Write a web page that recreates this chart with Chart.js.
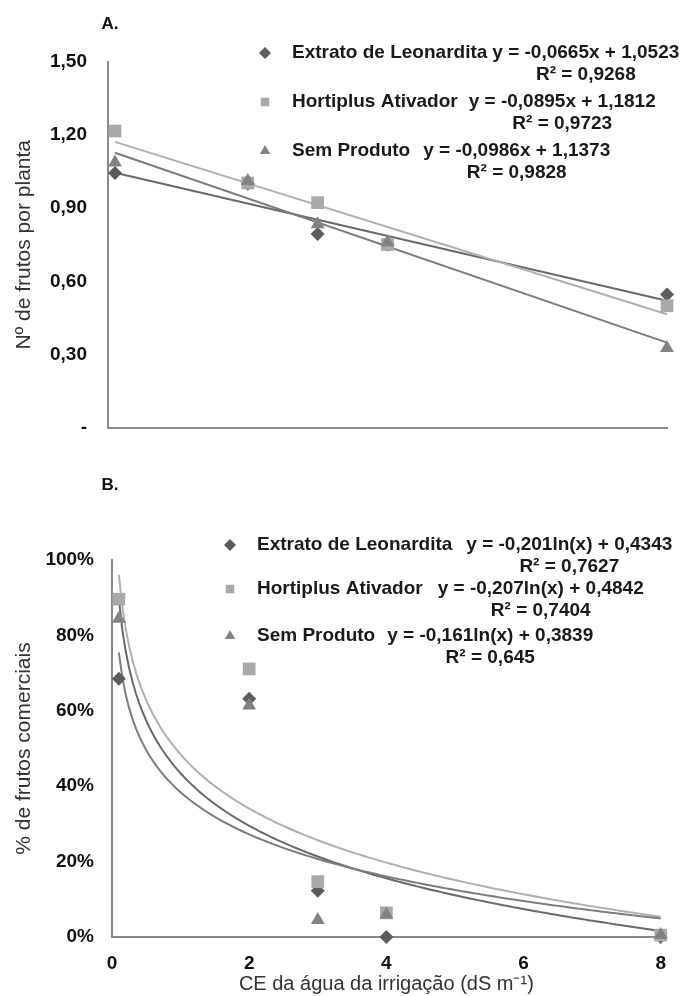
<!DOCTYPE html>
<html>
<head>
<meta charset="utf-8">
<script src="https://cdn.jsdelivr.net/npm/chart.js@4"></script>
<style>
  body { margin: 0; background: #fff; }
  #wrap { position: relative; width: 681px; height: 996px; }
  canvas { position: absolute; left: 0; }
  #chartA { top: 0; }
  #chartB { top: 460px; }
</style>
</head>
<body>
<div id="wrap">
  <canvas id="chartA" width="681" height="460"></canvas>
  <canvas id="chartB" width="681" height="536"></canvas>
</div>
<script>
// CE da agua de irrigacao (dS m-1)
const ce = [0.1, 2, 3, 4, 8];

const seriesNames = ['Extrato de Leonardita', 'Hortiplus Ativador', 'Sem Produto'];

// A. frutos por planta
const frutosExtrato = [1.045, 1.00, 0.794, 0.75, 0.546];
const frutosHortiplus = [1.217, 1.004, 0.923, 0.751, 0.50];
const frutosSem = [1.088, 1.012, 0.834, 0.76, 0.327];
const slopeA = [-0.0665, -0.0895, -0.0986];
const interceptA = [1.0523, 1.1812, 1.1373];
const eqTextA = ['y = -0,0665x + 1,0523', 'y = -0,0895x + 1,1812', 'y = -0,0986x + 1,1373'];
const r2TextA = ['R² = 0,9268', 'R² = 0,9723', 'R² = 0,9828'];
const yTicksA = ['-', '0,30', '0,60', '0,90', '1,20', '1,50'];

// B. % frutos comerciais
const comExtrato = [68.5, 63.2, 12.3, 0, 0];
const comHortiplus = [89.6, 71.1, 14.7, 6.4, 0.5];
const comSem = [84.4, 61.4, 4.5, 6.0, 0.5];
const logCoefB = [-0.201, -0.207, -0.161];
const logInterceptB = [0.4343, 0.4842, 0.3839];
const eqTextB = ['y = -0,201ln(x) + 0,4343', 'y = -0,207ln(x) + 0,4842', 'y = -0,161ln(x) + 0,3839'];
const r2TextB = ['R² = 0,7627', 'R² = 0,7404', 'R² = 0,645'];
const xTicksB = ['0', '2', '4', '6', '8'];

const FONT = "'Liberation Sans', Arial, sans-serif";
const markerStyle = ['rectRot', 'rect', 'triangle'];
const markerColor = ['#5c5c5c', '#a9a9a9', '#828282'];
const markerRadius = [7, 9, 8];
const lineColor = ['#6a6a6a', '#b0b0b0', '#7c7c7c'];
const axisColor = '#8a8a8a';

function pts(ys) {
  return ce.map((x, i) => ({ x: x, y: ys[i] }));
}

function markerSets(values) {
  return values.map((ys, i) => ({
    type: 'scatter',
    data: pts(ys),
    pointStyle: markerStyle[i],
    pointRadius: markerRadius[i],
    pointBackgroundColor: markerColor[i],
    pointBorderWidth: 0,
    order: 3 - i,
    clip: false
  }));
}

function trendSet(data, i) {
  return {
    type: 'line',
    data: data,
    borderColor: lineColor[i],
    borderWidth: 2,
    pointRadius: 0,
    tension: 0,
    order: 10 - i,
    clip: false
  };
}

// legend drawn like the excel text boxes: marker, name, equation and R2 below
function legendPlugin(label, labelPos, eqs, r2s, pos) {
  return {
    id: 'legendEq',
    afterDraw(chart) {
      const ctx = chart.ctx;
      ctx.save();
      ctx.fillStyle = '#111';
      ctx.font = 'bold 17px ' + FONT;
      ctx.textBaseline = 'middle';
      ctx.textAlign = 'center';
      ctx.fillText(label, labelPos[0], labelPos[1]);
      ctx.font = 'bold 19px ' + FONT;
      seriesNames.forEach((name, i) => {
        const y = pos.rows[i];
        ctx.fillStyle = markerColor[i];
        Chart.helpers.drawPoint(ctx, { pointStyle: markerStyle[i], radius: 6, rotation: 0, borderWidth: 0 }, pos.markerX, y);
        ctx.fillStyle = '#1a1a1a';
        ctx.textAlign = 'left';
        ctx.fillText(name, pos.nameX, y);
        const eqX = pos.nameX + ctx.measureText(name).width + pos.gaps[i];
        ctx.fillText(eqs[i], eqX, y);
        const mid = eqX + ctx.measureText(eqs[i]).width / 2;
        ctx.textAlign = 'center';
        ctx.fillText(r2s[i], mid, y + 22);
      });
      ctx.restore();
    }
  };
}

const tickFont = { family: FONT, size: 19, weight: 'bold' };

// ---- chart A
const trendA = slopeA.map((a, i) => trendSet([
  { x: ce[0], y: a * ce[0] + interceptA[i] },
  { x: ce[ce.length - 1], y: a * ce[ce.length - 1] + interceptA[i] }
], i));

new Chart(document.getElementById('chartA'), {
  data: {
    datasets: markerSets([frutosExtrato, frutosHortiplus, frutosSem]).concat(trendA)
  },
  options: {
    responsive: false,
    animation: false,
    devicePixelRatio: 1,
    layout: { padding: { top: 62, right: 14, left: 0, bottom: 0 } },
    plugins: { legend: { display: false }, tooltip: { enabled: false } },
    scales: {
      x: {
        type: 'linear', min: 0, max: 8,
        ticks: { display: false },
        grid: { display: false, drawTicks: false },
        border: { color: axisColor, width: 2 },
        afterFit: s => { s.height = 16; }
      },
      y: {
        min: 0, max: 1.5,
        ticks: {
          stepSize: 0.3, padding: 21, color: '#111', font: tickFont,
          callback: (v, i) => yTicksA[i]
        },
        grid: { display: false, drawTicks: false },
        border: { color: axisColor, width: 2 },
        title: {
          display: true, text: 'Nº de frutos por planta', color: '#333',
          font: { family: FONT, size: 21 }, padding: { top: 12, bottom: 0 }
        },
        afterFit: s => { s.width = 108; }
      }
    }
  },
  plugins: [legendPlugin('A.', [110, 24], eqTextA, r2TextA, {
    markerX: 265, nameX: 292, rows: [53, 102, 151], gaps: [5, 11, 13]
  })]
});

// ---- chart B
const trendB = logCoefB.map((a, i) => {
  const d = [];
  for (let x = ce[0]; x <= ce[ce.length - 1] + 1e-9; x += 0.05) {
    d.push({ x: x, y: (a * Math.log(x) + logInterceptB[i]) * 100 });
  }
  return trendSet(d, i);
});

new Chart(document.getElementById('chartB'), {
  data: {
    datasets: markerSets([comExtrato, comHortiplus, comSem]).concat(trendB)
  },
  options: {
    responsive: false,
    animation: false,
    devicePixelRatio: 1,
    layout: { padding: { top: 100, right: 19, left: 0, bottom: 0 } },
    plugins: { legend: { display: false }, tooltip: { enabled: false } },
    scales: {
      x: {
        type: 'linear', min: 0, max: 8,
        ticks: {
          stepSize: 2, padding: 15, color: '#111', font: tickFont,
          callback: (v, i) => xTicksB[i]
        },
        grid: { display: false, drawTicks: false },
        border: { color: axisColor, width: 2 },
        title: {
          display: true, text: 'CE da água da irrigação (dS m⁻¹)', color: '#333',
          font: { family: FONT, size: 20 }, padding: { top: 0, bottom: 0 }
        },
        afterFit: s => { s.height = 59; }
      },
      y: {
        min: 0, max: 100,
        ticks: {
          stepSize: 20, padding: 18, color: '#111', font: tickFont,
          callback: v => v + '%'
        },
        grid: { display: false, drawTicks: false },
        border: { color: axisColor, width: 2 },
        title: {
          display: true, text: '% de frutos comerciais', color: '#333',
          font: { family: FONT, size: 21 }, padding: { top: 12, bottom: 0 }
        },
        afterFit: s => { s.width = 112; }
      }
    }
  },
  plugins: [legendPlugin('B.', [110, 25], eqTextB, r2TextB, {
    markerX: 230, nameX: 257, rows: [85, 129, 176], gaps: [14, 15, 12]
  })]
});
</script>
</body>
</html>
